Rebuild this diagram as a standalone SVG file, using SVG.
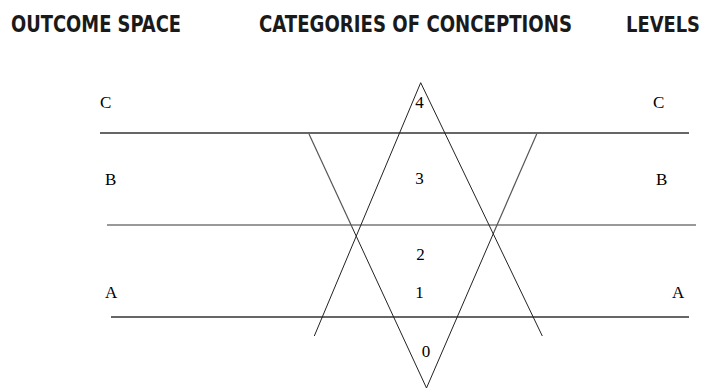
<svg xmlns="http://www.w3.org/2000/svg" width="704" height="389" viewBox="0 0 704 389">
<style>
.hd{font-family:"Liberation Sans Narrow","DejaVu Sans Condensed","Liberation Sans",Arial,sans-serif;font-weight:bold;font-size:23px;fill:#1a1a1a}
.lb{font-family:"Liberation Serif","Times New Roman",serif;font-size:17px;fill:#000}
.hl{stroke:#333;stroke-width:1.3;fill:none}
.hg{stroke:#777;stroke-width:1.5;fill:none}
.tr{stroke:#222;stroke-width:1;fill:none}
.tg{stroke:#555;stroke-width:1.2;fill:none}
</style>
<rect width="704" height="389" fill="#fff"/>
<g id="headers">
<text class="hd" x="11" y="32" textLength="170" lengthAdjust="spacingAndGlyphs">OUTCOME SPACE</text>
<text class="hd" x="259" y="32" textLength="313" lengthAdjust="spacingAndGlyphs">CATEGORIES OF CONCEPTIONS</text>
<text class="hd" x="700" y="32" text-anchor="end" style="font-size:21px" textLength="74" lengthAdjust="spacingAndGlyphs">LEVELS</text>
</g>
<g id="connectors">
<line class="hl" x1="100" y1="133" x2="689" y2="133"/>
<line class="hg" x1="107" y1="225" x2="696" y2="225"/>
<line class="hl" x1="111" y1="317" x2="689" y2="317"/>
<polyline class="tr" points="314.3,336 420.7,82.7 542.3,336"/>
<line class="tg" x1="309" y1="134" x2="352" y2="227"/>
<line class="tr" x1="352" y1="227" x2="426.5" y2="388"/>
<line class="tg" x1="536.7" y1="134" x2="494" y2="232"/>
<line class="tr" x1="494" y1="232" x2="426.5" y2="388"/>
</g>
<g id="levels">
<text class="lb" x="419.5" y="108" text-anchor="middle">4</text>
<text class="lb" x="419.5" y="184" text-anchor="middle">3</text>
<text class="lb" x="420.5" y="260" text-anchor="middle">2</text>
<text class="lb" x="419.5" y="298" text-anchor="middle">1</text>
<text class="lb" x="426" y="357" text-anchor="middle">0</text>
</g>
<g id="outcome-left">
<text class="lb" x="100" y="108">C</text>
<text class="lb" x="105" y="185">B</text>
<text class="lb" x="105" y="298">A</text>
</g>
<g id="outcome-right">
<text class="lb" x="653" y="108">C</text>
<text class="lb" x="656" y="185">B</text>
<text class="lb" x="672" y="298">A</text>
</g>
</svg>
